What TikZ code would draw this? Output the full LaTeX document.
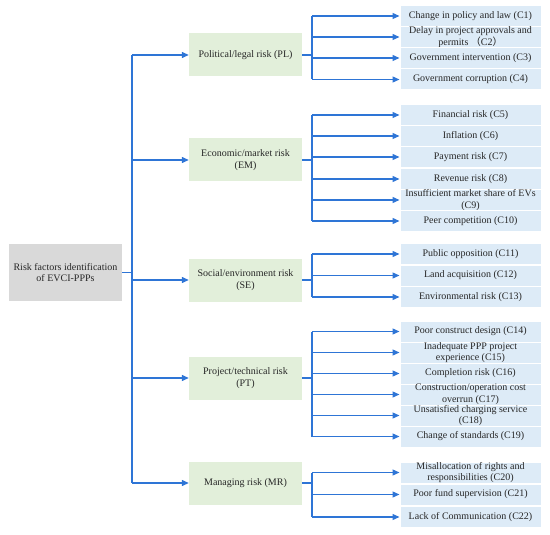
\documentclass[tikz,border=0pt]{standalone}
\usepackage{fontspec}
\setmainfont{Liberation Serif}
\newfontfamily\cjk{Noto Sans CJK SC}
\usetikzlibrary{arrows.meta}
\definecolor{lineblue}{RGB}{46,117,214}
\definecolor{leafblue}{RGB}{221,235,247}
\definecolor{catgreen}{RGB}{226,239,218}
\definecolor{rootgray}{RGB}{217,217,217}
\definecolor{txt}{RGB}{38,38,38}
\tikzset{
  base/.style={rectangle, inner sep=0pt, align=center, text=txt,
    font=\fontsize{10}{11.5}\selectfont},
  leaf/.style={base, fill=leafblue, draw=white, line width=1pt,
    minimum width=141pt, minimum height=21pt},
  cat/.style={base, fill=catgreen, minimum width=113pt, minimum height=43pt},
  rootbox/.style={base, fill=rootgray, minimum width=113pt, minimum height=57pt},
  conn/.style={draw=lineblue, line width=1.3pt},
  arr/.style={conn, -{Triangle[length=7pt,width=6pt]}}
}
\begin{document}
\begin{tikzpicture}[x=1pt,y=-1pt]
\useasboundingbox (0,0) rectangle (550,535);
% root and categories
\node[rootbox] (root) at (65.5,272.5) {Risk factors identification\\of EVCI-PPPs};
\node[cat] (PL) at (245.5,55) {Political/legal risk (PL)};
\node[cat] (EM) at (245.5,160) {Economic/market risk\\(EM)};
\node[cat] (SE) at (245.5,280) {Social/environment risk\\(SE)};
\node[cat] (PT) at (245.5,378) {Project/technical risk\\(PT)};
\node[cat] (MR) at (245.5,483) {Managing risk (MR)};
% leaves
\node[leaf] (C1) at (470.5,16) {Change in policy and law (C1)};
\node[leaf] (C2) at (470.5,37) {Delay in project approvals and\\permits {\cjk （}C2{\cjk ）}};
\node[leaf] (C3) at (470.5,58) {Government intervention (C3)};
\node[leaf] (C4) at (470.5,79.5) {Government corruption (C4)};
\node[leaf] (C5) at (470.5,115) {Financial risk (C5)};
\node[leaf] (C6) at (470.5,136) {Inflation (C6)};
\node[leaf] (C7) at (470.5,157) {Payment risk (C7)};
\node[leaf] (C8) at (470.5,179) {Revenue risk (C8)};
\node[leaf] (C9) at (470.5,200) {Insufficient market share of EVs\\(C9)};
\node[leaf] (C10) at (470.5,221) {Peer competition (C10)};
\node[leaf] (C11) at (470.5,254) {Public opposition (C11)};
\node[leaf] (C12) at (470.5,275.5) {Land acquisition (C12)};
\node[leaf] (C13) at (470.5,297) {Environmental risk (C13)};
\node[leaf] (C14) at (470.5,331.5) {Poor construct design (C14)};
\node[leaf] (C15) at (470.5,352.5) {Inadequate PPP project\\experience (C15)};
\node[leaf] (C16) at (470.5,373.5) {Completion risk (C16)};
\node[leaf] (C17) at (470.5,394.5) {Construction/operation cost\\overrun (C17)};
\node[leaf] (C18) at (470.5,415.5) {Unsatisfied charging service\\(C18)};
\node[leaf] (C19) at (470.5,436.5) {Change of standards (C19)};
\node[leaf] (C20) at (470.5,472.5) {Misallocation of rights and\\responsibilities (C20)};
\node[leaf] (C21) at (470.5,494.5) {Poor fund supervision (C21)};
\node[leaf] (C22) at (470.5,517) {Lack of Communication (C22)};
% trunk coordinates
\coordinate (tx) at (132,0);
\coordinate (sx) at (312,0);
% root connectors
\draw[conn] (root.east) -- (root.east -| tx);
\draw[conn] (tx |- PL.west) -- (tx |- MR.west);
\foreach \c in {PL,EM,SE,PT,MR}
  \draw[arr] (tx |- \c.west) -- (\c.west);
% category connectors
\foreach \c/\a/\b/\list in {PL/C1/C4/{C1,C2,C3,C4},
                            EM/C5/C10/{C5,C6,C7,C8,C9,C10},
                            SE/C11/C13/{C11,C12,C13},
                            PT/C14/C19/{C14,C15,C16,C17,C18,C19},
                            MR/C20/C22/{C20,C21,C22}}{
  \draw[conn] (\c.east) -- (\c.east -| sx);
  \draw[conn] (sx |- \a.west) -- (sx |- \b.west);
  \foreach \l in \list
    \draw[arr] (sx |- \l.west) -- (\l.west);
}
\end{tikzpicture}
\end{document}
